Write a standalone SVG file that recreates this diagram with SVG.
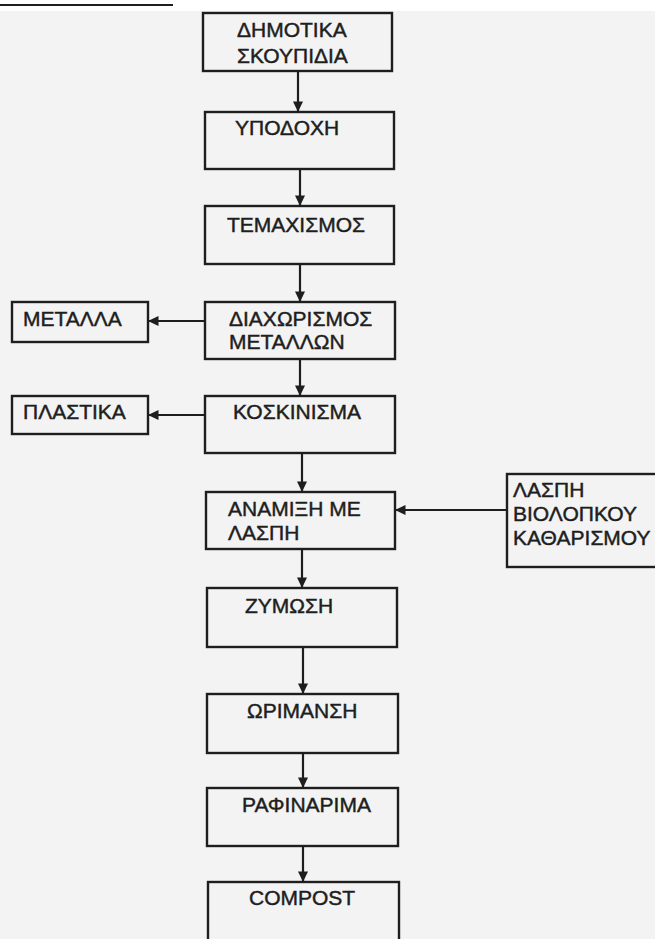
<svg xmlns="http://www.w3.org/2000/svg" width="655" height="939" viewBox="0 0 655 939">
<style>
.box{fill:none;stroke:#1e1e1e;stroke-width:2.4}
.t{font-family:"Liberation Sans",Arial,sans-serif;font-size:21px;fill:#1e1e1e;stroke:#1e1e1e;stroke-width:0.45}
.c{stroke:#1e1e1e;stroke-width:2.2;fill:none}
</style>
<defs>
<marker id="ah" markerUnits="userSpaceOnUse" markerWidth="12" markerHeight="12" viewBox="0 0 12 12" refX="11" refY="6" orient="auto">
<path d="M0.5,1 L11,6 L0.5,11 Z" fill="#1e1e1e"/>
</marker>
</defs>
<rect x="0" y="0" width="655" height="939" fill="#f3f3f3"/>
<rect x="0" y="0" width="655" height="11" fill="#ffffff"/>
<line x1="0" y1="5" x2="173" y2="5" stroke="#1e1e1e" stroke-width="2"/>

<g id="connectors">
<line class="c" x1="298" y1="71" x2="298" y2="112" marker-end="url(#ah)"/>
<line class="c" x1="300" y1="169" x2="300" y2="206" marker-end="url(#ah)"/>
<line class="c" x1="300" y1="264" x2="300" y2="302" marker-end="url(#ah)"/>
<line class="c" x1="205" y1="321" x2="148" y2="321" marker-end="url(#ah)"/>
<line class="c" x1="300" y1="359" x2="300" y2="396" marker-end="url(#ah)"/>
<line class="c" x1="205" y1="415" x2="148" y2="415" marker-end="url(#ah)"/>
<line class="c" x1="302" y1="453" x2="302" y2="492" marker-end="url(#ah)"/>
<line class="c" x1="507" y1="510" x2="395" y2="510" marker-end="url(#ah)"/>
<line class="c" x1="302" y1="549" x2="302" y2="588" marker-end="url(#ah)"/>
<line class="c" x1="303" y1="647" x2="303" y2="694" marker-end="url(#ah)"/>
<line class="c" x1="303" y1="753" x2="303" y2="788" marker-end="url(#ah)"/>
<line class="c" x1="303" y1="846" x2="303" y2="882" marker-end="url(#ah)"/>
</g>

<g id="n1"><rect class="box" x="203" y="13" width="189" height="58"/>
<text class="t" x="237" y="37">ΔΗΜΟΤΙΚΑ</text><text class="t" x="237" y="63">ΣΚΟΥΠΙΔΙΑ</text></g>
<g id="n2"><rect class="box" x="205" y="112" width="189" height="57"/>
<text class="t" x="235" y="135">ΥΠΟΔΟΧΗ</text></g>
<g id="n3"><rect class="box" x="205" y="206" width="189" height="58"/>
<text class="t" x="227" y="232">ΤΕΜΑΧΙΣΜΟΣ</text></g>
<g id="n4"><rect class="box" x="205" y="302" width="190" height="57"/>
<text class="t" x="229" y="326">ΔΙΑΧΩΡΙΣΜΟΣ</text><text class="t" x="229" y="349">ΜΕΤΑΛΛΩΝ</text></g>
<g id="metals"><rect class="box" x="12" y="302" width="136" height="40"/>
<text class="t" x="23" y="326">ΜΕΤΑΛΛΑ</text></g>
<g id="n5"><rect class="box" x="205" y="396" width="190" height="57"/>
<text class="t" x="233" y="419">ΚΟΣΚΙΝΙΣΜΑ</text></g>
<g id="plastics"><rect class="box" x="12" y="396" width="136" height="38"/>
<text class="t" x="23" y="419">ΠΛΑΣΤΙΚΑ</text></g>
<g id="n6"><rect class="box" x="206" y="492" width="189" height="57"/>
<text class="t" x="228" y="516">ΑΝΑΜΙΞΗ ΜΕ</text><text class="t" x="228" y="540">ΛΑΣΠΗ</text></g>
<g id="sludge"><rect class="box" x="507" y="474" width="170" height="93"/>
<text class="t" x="513" y="497">ΛΑΣΠΗ</text><text class="t" x="513" y="521">ΒΙΟΛΟΠΚΟΥ</text><text class="t" x="513" y="545">ΚΑΘΑΡΙΣΜΟΥ</text></g>
<g id="n7"><rect class="box" x="207" y="588" width="190" height="59"/>
<text class="t" x="245" y="613">ΖΥΜΩΣΗ</text></g>
<g id="n8"><rect class="box" x="207" y="694" width="191" height="59"/>
<text class="t" x="247" y="718">ΩΡΙΜΑΝΣΗ</text></g>
<g id="n9"><rect class="box" x="207" y="788" width="191" height="58"/>
<text class="t" x="242" y="812">ΡΑΦΙΝΑΡΙΜΑ</text></g>
<g id="n10"><rect class="box" x="208" y="882" width="191" height="70"/>
<text class="t" x="249" y="905">COMPOST</text></g>
</svg>
